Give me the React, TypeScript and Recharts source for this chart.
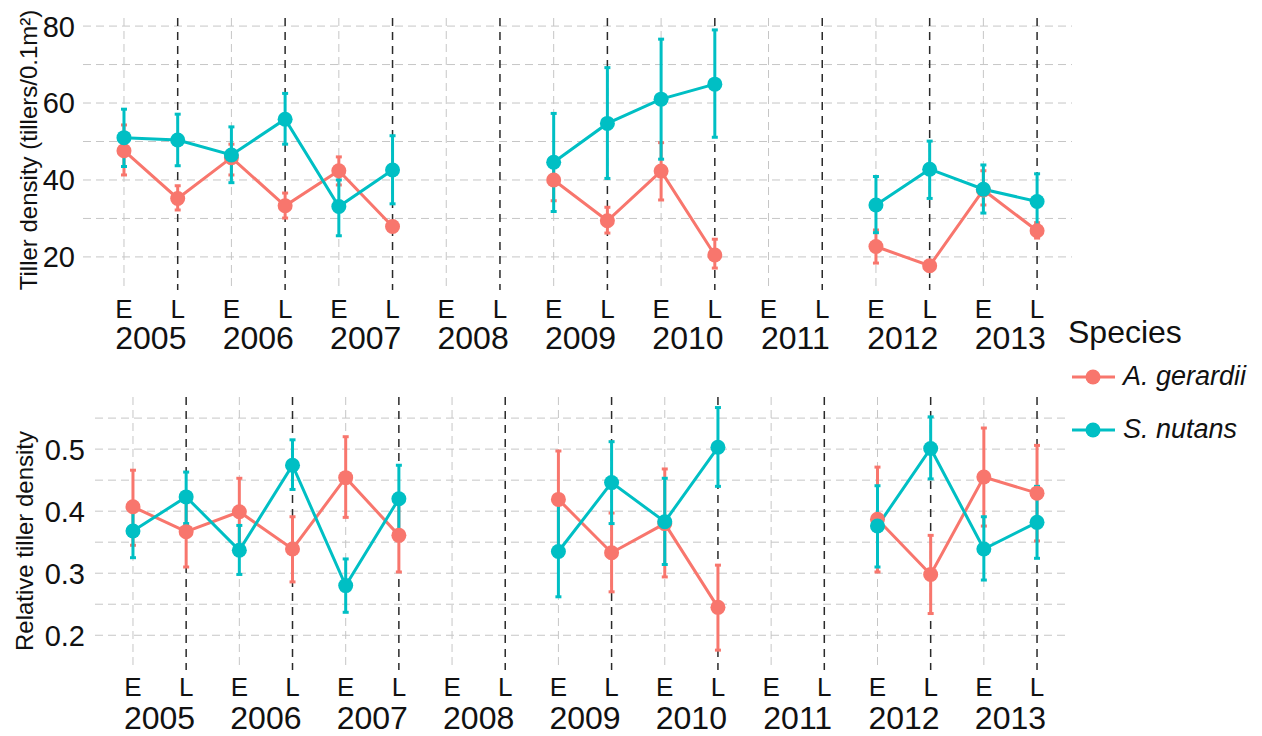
import { LineChart, Line, XAxis, YAxis, CartesianGrid, ErrorBar } from 'recharts';

// Sampling periods (early / late season) for each year
const periods = ['E', 'L', 'E', 'L', 'E', 'L', 'E', 'L', 'E', 'L', 'E', 'L', 'E', 'L', 'E', 'L', 'E', 'L'];
const years = ['2005', '2006', '2007', '2008', '2009', '2010', '2011', '2012', '2013'];

// Tiller density (tillers/0.1m2), mean and error-bar limits
const tillerAg = [47.6, 35.2, 45.8, 33.3, 42.4, 27.9, null, null, 40.0, 29.4, 42.3, 20.5, null, null, 22.7, 17.7, 37.4, 26.8];
const tillerAgLow = [41.3, 32.2, 41.3, 30.1, 38.7, 27.0, null, null, 34.6, 26.2, 34.8, 17.1, null, null, 18.4, 16.8, 33.5, 24.9];
const tillerAgHigh = [54.3, 38.5, 49.3, 36.6, 46.0, 28.8, null, null, 45.4, 32.9, 49.7, 24.6, null, null, 27.0, 18.6, 42.4, 28.9];
const tillerSn = [51.0, 50.4, 46.5, 55.8, 33.1, 42.6, null, null, 44.6, 54.7, 61.0, 64.9, null, null, 33.5, 42.8, 37.6, 34.4];
const tillerSnLow = [43.5, 43.7, 39.3, 49.3, 25.5, 33.8, null, null, 31.8, 40.4, 45.4, 51.1, null, null, 26.3, 35.2, 31.4, 27.0];
const tillerSnHigh = [58.4, 57.1, 53.8, 62.5, 40.0, 51.5, null, null, 57.3, 69.2, 76.6, 79.0, null, null, 40.9, 50.1, 43.9, 41.6];

// Relative tiller density
const relAg = [0.407, 0.367, 0.399, 0.339, 0.454, 0.361, null, null, 0.419, 0.333, 0.38, 0.245, null, null, 0.387, 0.298, 0.455, 0.429];
const relAgLow = [0.345, 0.31, 0.345, 0.286, 0.39, 0.302, null, null, 0.34, 0.27, 0.294, 0.176, null, null, 0.302, 0.235, 0.376, 0.352];
const relAgHigh = [0.466, 0.42, 0.453, 0.391, 0.52, 0.423, null, null, 0.497, 0.397, 0.468, 0.313, null, null, 0.471, 0.361, 0.534, 0.506];
const relSn = [0.368, 0.423, 0.337, 0.474, 0.28, 0.42, null, null, 0.335, 0.446, 0.383, 0.503, null, null, 0.376, 0.501, 0.339, 0.382];
const relSnLow = [0.325, 0.38, 0.298, 0.435, 0.237, 0.368, null, null, 0.262, 0.38, 0.314, 0.44, null, null, 0.31, 0.452, 0.289, 0.324];
const relSnHigh = [0.412, 0.463, 0.377, 0.515, 0.323, 0.474, null, null, 0.411, 0.512, 0.453, 0.567, null, null, 0.441, 0.552, 0.391, 0.44];

const tillerTicks = [20, 30, 40, 50, 60, 70, 80];
const tillerLabels = [20, 40, 60, 80];
const relTicks = [0.2, 0.25, 0.3, 0.35, 0.4, 0.45, 0.5, 0.55];
const relLabels = [0.2, 0.3, 0.4, 0.5];

const AG_COLOUR = '#F8766D';
const SN_COLOUR = '#00BFC4';
const FONT = '"Liberation Sans", Arial, Helvetica, sans-serif';
const TEXT = '#111';
const CHART_WIDTH = 1262;

const periodIdx = periods.map((_, i) => i);
const earlyIdx = periodIdx.filter((i) => periods[i] === 'E');
const lateIdx = periodIdx.filter((i) => periods[i] === 'L');

type Num = number | null;

function buildRows(ag: Num[], agLo: Num[], agHi: Num[], sn: Num[], snLo: Num[], snHi: Num[]) {
  return periods.map((_, i) => ({
    idx: i,
    ag: ag[i],
    agErr: ag[i] == null ? null : [(ag[i] as number) - (agLo[i] as number), (agHi[i] as number) - (ag[i] as number)],
    sn: sn[i],
    snErr: sn[i] == null ? null : [(sn[i] as number) - (snLo[i] as number), (snHi[i] as number) - (sn[i] as number)],
  }));
}

const tillerRows = buildRows(tillerAg, tillerAgLow, tillerAgHigh, tillerSn, tillerSnLow, tillerSnHigh);
const relRows = buildRows(relAg, relAgLow, relAgHigh, relSn, relSnLow, relSnHigh);

interface PanelProps {
  data: ReturnType<typeof buildRows>;
  height: number;
  margin: { top: number; right: number; bottom: number; left: number };
  xDomain: [number, number];
  yDomain: [number, number];
  yTicks: number[];
  yLabels: number[];
  fmt: (v: number) => string;
  yAxisWidth: number;
  tickMargin: number;
  xAxisHeight: number;
  periodDy: number;
  yearDy: number;
  title: string;
  titleX: number;
  titleY: number;
}

function Panel(p: PanelProps) {
  // distance between two neighbouring periods, used to centre the year under its E/L pair
  const plotWidth = CHART_WIDTH - p.margin.left - p.margin.right - p.yAxisWidth;
  const step = plotWidth / (p.xDomain[1] - p.xDomain[0]);

  const yTick = (props: any) => {
    const { x, y, payload } = props;
    if (!p.yLabels.includes(payload.value)) return <g />;
    return (
      <text x={x} y={y} dy="0.36em" textAnchor="end" fontSize={29} fill={TEXT} fontFamily={FONT}>
        {p.fmt(payload.value)}
      </text>
    );
  };
  const periodTick = (props: any) => {
    const i = props.payload.value;
    return (
      <g>
        <text x={props.x} y={props.y + p.periodDy} textAnchor="middle" fontSize={26} fill={TEXT} fontFamily={FONT}>
          {periods[i]}
        </text>
        {periods[i] === 'E' && (
          <text x={props.x + step / 2} y={props.y + p.yearDy} textAnchor="middle" fontSize={32} fill={TEXT} fontFamily={FONT}>
            {years[Math.floor(i / 2)]}
          </text>
        )}
      </g>
    );
  };
  const titleLabel = () => (
    <text
      x={p.titleX}
      y={p.titleY}
      transform={`rotate(-90, ${p.titleX}, ${p.titleY})`}
      textAnchor="middle"
      fontSize={24}
      fill={TEXT}
      fontFamily={FONT}
    >
      {p.title}
    </text>
  );

  return (
    <LineChart width={CHART_WIDTH} height={p.height} data={p.data} margin={p.margin}>
      <CartesianGrid vertical={false} syncWithTicks stroke="#c6c6c6" strokeDasharray="8 5" />
      <CartesianGrid xAxisId="eGrid" horizontal={false} syncWithTicks stroke="#c6c6c6" strokeDasharray="8 5" />
      <CartesianGrid xAxisId="lGrid" horizontal={false} syncWithTicks stroke="#2a2a2a" strokeWidth={1.5} strokeDasharray="8 6" />
      <XAxis
        dataKey="idx"
        type="number"
        domain={p.xDomain}
        ticks={periodIdx}
        interval={0}
        height={p.xAxisHeight}
        axisLine={false}
        tickLine={false}
        tickSize={0}
        tickMargin={0}
        tick={periodTick}
      />
      <XAxis xAxisId="eGrid" dataKey="idx" type="number" domain={p.xDomain} ticks={earlyIdx} interval={0} height={0} hide />
      <XAxis xAxisId="lGrid" dataKey="idx" type="number" domain={p.xDomain} ticks={lateIdx} interval={0} height={0} hide />
      <YAxis
        type="number"
        domain={p.yDomain}
        ticks={p.yTicks}
        interval={0}
        width={p.yAxisWidth}
        axisLine={false}
        tickLine={false}
        tickSize={0}
        tickMargin={p.tickMargin}
        tick={yTick}
        allowDataOverflow
        label={{ content: titleLabel }}
      />
      <Line
        dataKey="ag"
        stroke={AG_COLOUR}
        strokeWidth={3}
        dot={{ r: 7.5, fill: AG_COLOUR, stroke: AG_COLOUR, strokeWidth: 0 }}
        activeDot={false}
        isAnimationActive={false}
      >
        <ErrorBar dataKey="agErr" direction="y" width={3} strokeWidth={3} stroke={AG_COLOUR} isAnimationActive={false} />
      </Line>
      <Line
        dataKey="sn"
        stroke={SN_COLOUR}
        strokeWidth={3}
        dot={{ r: 7.5, fill: SN_COLOUR, stroke: SN_COLOUR, strokeWidth: 0 }}
        activeDot={false}
        isAnimationActive={false}
      >
        <ErrorBar dataKey="snErr" direction="y" width={3} strokeWidth={3} stroke={SN_COLOUR} isAnimationActive={false} />
      </Line>
    </LineChart>
  );
}

function SpeciesLegend() {
  const items = [
    { name: 'A. gerardii', colour: AG_COLOUR },
    { name: 'S. nutans', colour: SN_COLOUR },
  ];
  return (
    <svg width={200} height={160} style={{ position: 'absolute', left: 1062, top: 300 }}>
      <text x={6} y={43} fontSize={32} fill={TEXT} fontFamily={FONT}>
        Species
      </text>
      {items.map((it, i) => (
        <g key={it.name} transform={`translate(0, ${77 + i * 53})`}>
          <line x1={10} x2={53} y1={0} y2={0} stroke={it.colour} strokeWidth={3} />
          <circle cx={31} cy={0} r={7.5} fill={it.colour} />
          <text x={61} y={8} fontSize={27} fontStyle="italic" fill={TEXT} fontFamily={FONT}>
            {it.name}
          </text>
        </g>
      ))}
    </svg>
  );
}

export default function App() {
  return (
    <div style={{ position: 'absolute', left: 0, top: 0, width: 1262, height: 736, background: '#fff', overflow: 'hidden' }}>
      <div style={{ position: 'absolute', left: 0, top: 0 }}>
        <Panel
          data={tillerRows}
          height={360}
          margin={{ top: 18, right: 190, bottom: 0, left: 0 }}
          xDomain={[-0.763, 17.65]}
          yDomain={[11.4, 82.1]}
          yTicks={tillerTicks}
          yLabels={tillerLabels}
          fmt={(v) => String(v)}
          yAxisWidth={83}
          tickMargin={8}
          xAxisHeight={70}
          periodDy={28}
          yearDy={59}
          title="Tiller density (tillers/0.1m²)"
          titleX={37}
          titleY={150}
        />
      </div>
      <div style={{ position: 'absolute', left: 0, top: 360 }}>
        <Panel
          data={relRows}
          height={376}
          margin={{ top: 37, right: 197, bottom: 0, left: 0 }}
          xDomain={[-0.714, 17.526]}
          yDomain={[0.144, 0.584]}
          yTicks={relTicks}
          yLabels={relLabels}
          fmt={(v) => v.toFixed(1)}
          yAxisWidth={95}
          tickMargin={10}
          xAxisHeight={66}
          periodDy={26}
          yearDy={59}
          title="Relative tiller density"
          titleX={33}
          titleY={181}
        />
      </div>
      <SpeciesLegend />
    </div>
  );
}
